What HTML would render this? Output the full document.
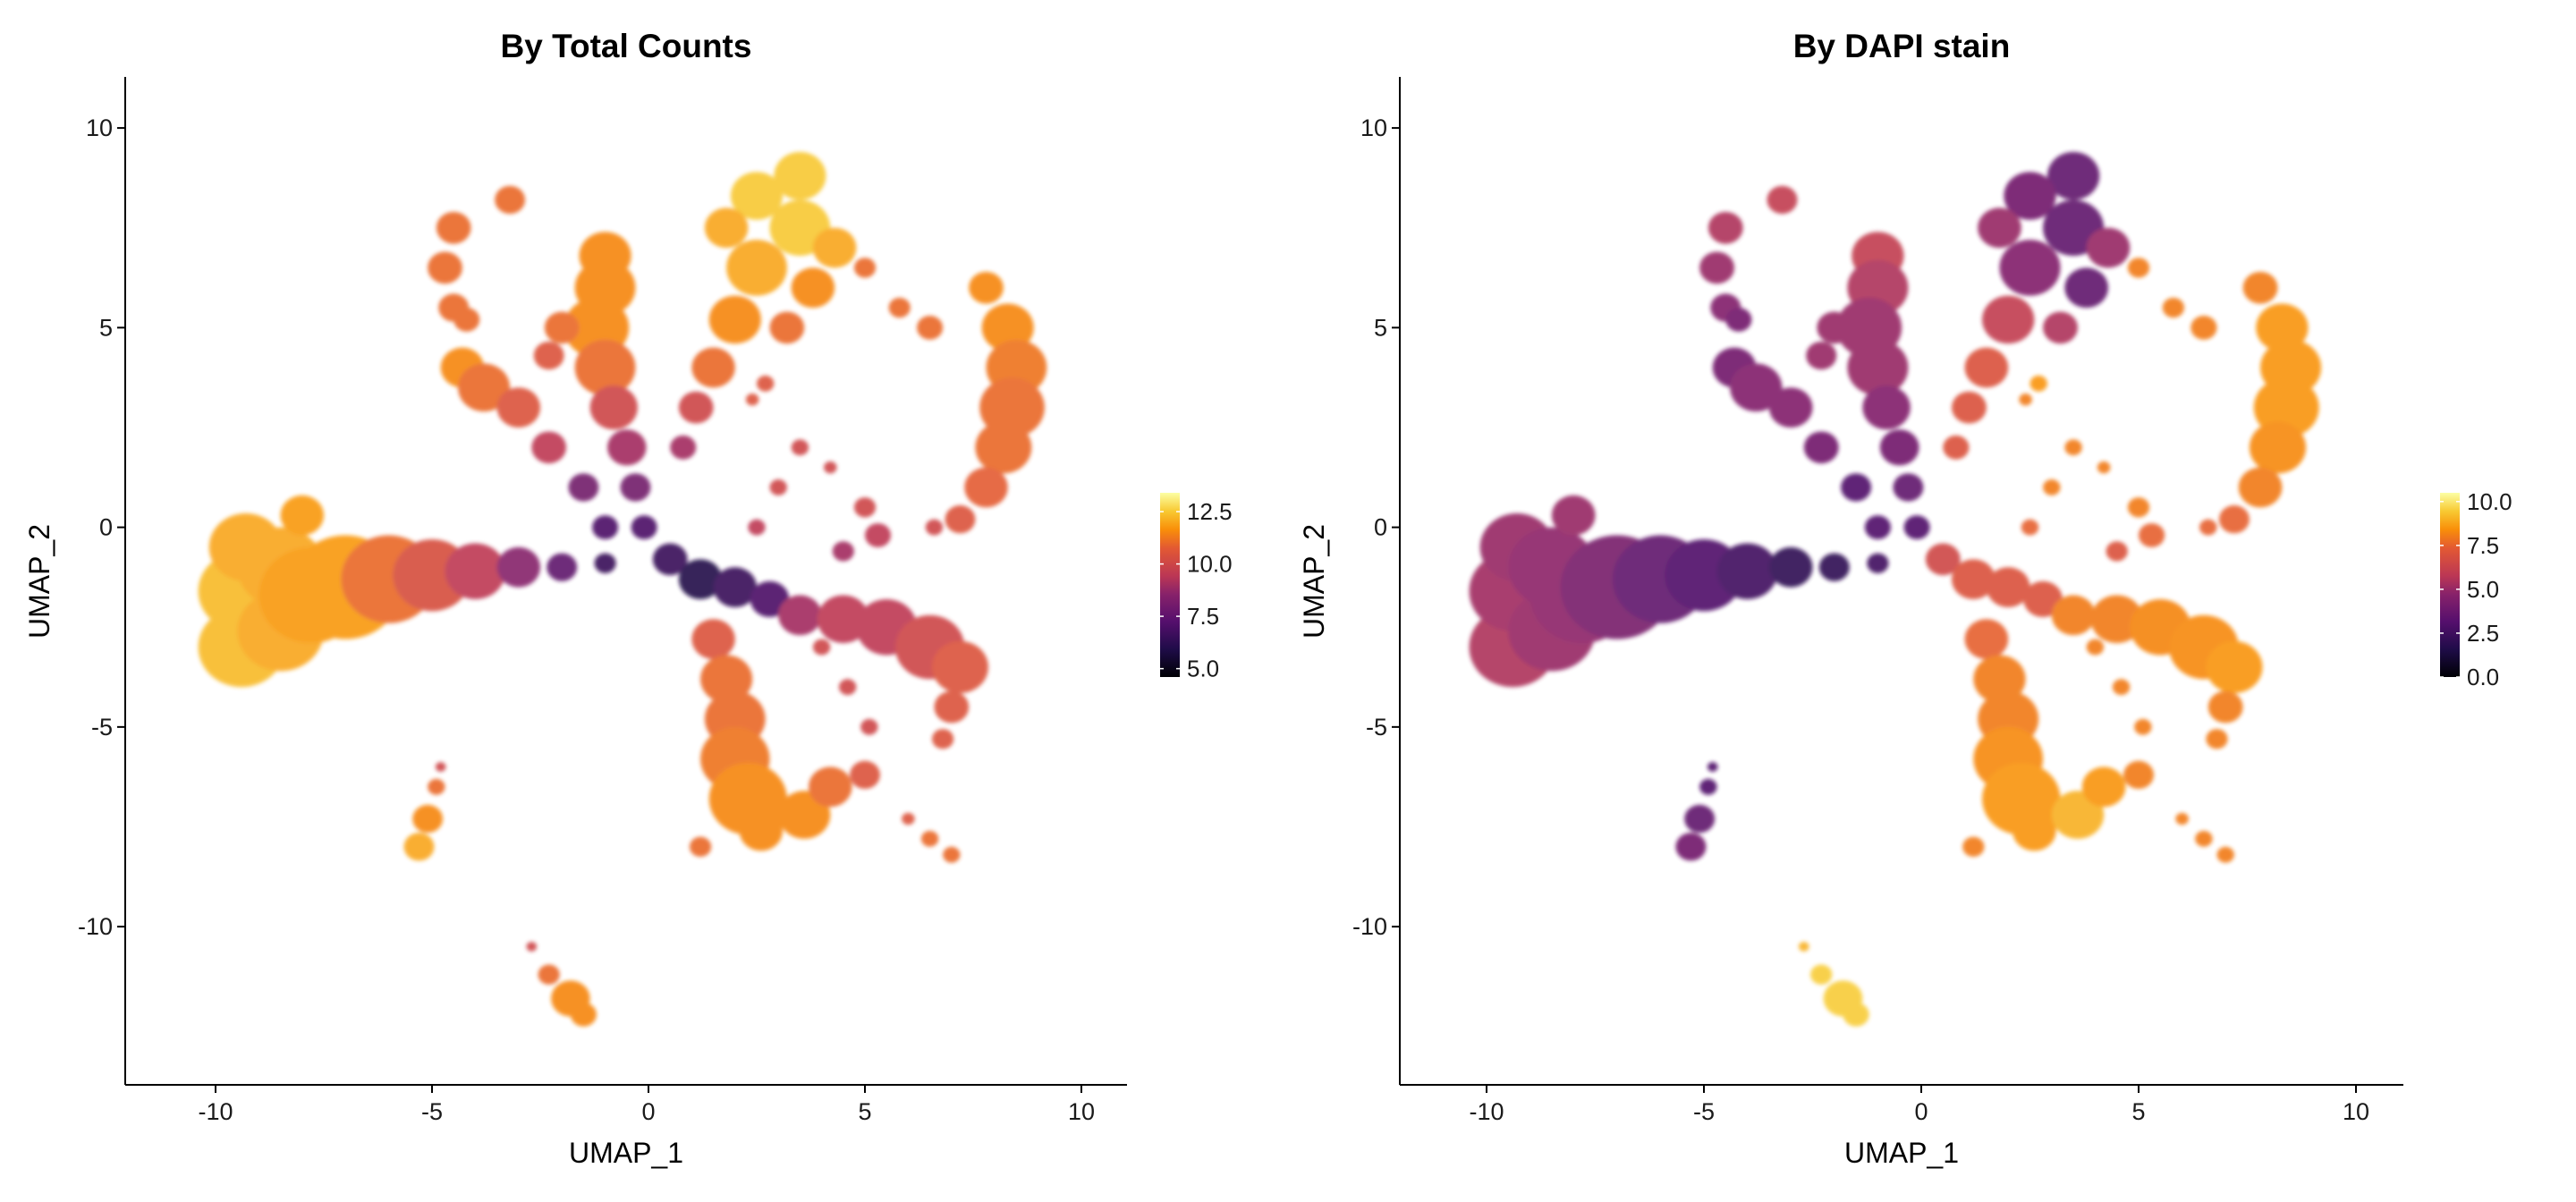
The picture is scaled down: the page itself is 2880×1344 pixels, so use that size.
<!DOCTYPE html>
<html><head><meta charset="utf-8">
<style>
body{margin:0;background:#fff;}
svg{display:block;font-family:"Liberation Sans",sans-serif;}
</style></head>
<body>
<svg id="root" width="2880" height="1344" viewBox="0 0 2880 1344">
<defs>
<linearGradient id="inferno" x1="0" y1="1" x2="0" y2="0">
<stop offset="0" stop-color="#000004"/><stop offset="0.15" stop-color="#1f0c48"/>
<stop offset="0.3" stop-color="#550f6d"/><stop offset="0.45" stop-color="#88226a"/>
<stop offset="0.55" stop-color="#bc3754"/><stop offset="0.7" stop-color="#e35933"/>
<stop offset="0.8" stop-color="#f98e09"/><stop offset="0.9" stop-color="#f8c932"/>
<stop offset="1" stop-color="#fcffa4"/></linearGradient>
<filter id="soft"><feGaussianBlur stdDeviation="2.5"/></filter>
</defs>
</svg>
<script>
// cluster anchors in UMAP coordinates
const clusterX = [
 -9.4,-9.4,-9.3,-8.5,-8.5,-7.8,-7,-6,-5,-4,-3,-2,-1, -8,
 -3.2,-4.5,-4.7,-4.5,-4.2,
 -4.3,-3.8,-3,-2.3,-1.5,-1,
 -1,-1,-1.2,-1,-0.8,-0.5,-0.3,-0.1,
 -2,-2.3,
 3.5,2.5,1.8,3.5,4.3,2.5,3.8,2,3.2,1.5,1.1,0.8,
 5,5.8,6.5,
 7.8,8.3,8.5,8.4,8.2,7.8,7.2,6.6,
 2.7,2.4,3.5,3,2.5,4.2,5,5.3,4.5,
 0.5,1.2,2,2.8,
 3.5,4.5,5.5,6.5,7.2,7,6.8,
 4,4.6,5.1,
 1.5,1.8,2,2,2.3,2.6,3.6,4.2,5,1.2,
 -5.3,-5.1,-4.9,-4.8,
 -2.7,-2.3,-1.8,-1.5,
 6,6.5,7];
const clusterY = [
 -3,-1.6,-0.5,-2.6,-1,-1.7,-1.5,-1.3,-1.2,-1.1,-1,-1,-0.9, 0.3,
 8.2,7.5,6.5,5.5,5.2,
 4,3.5,3,2,1,0,
 6.8,6,5,4,3,2,1,0,
 5,4.3,
 8.8,8.3,7.5,7.5,7,6.5,6,5.2,5,4,3,2,
 6.5,5.5,5,
 6,5,4,3,2,1,0.2,0,
 3.6,3.2,2,1,0,1.5,0.5,-0.2,-0.6,
 -0.8,-1.3,-1.5,-1.8,
 -2.2,-2.3,-2.5,-3,-3.5,-4.5,-5.3,
 -3,-4,-5,
 -2.8,-3.8,-4.8,-5.8,-6.8,-7.6,-7.2,-6.5,-6.2,-8,
 -8,-7.3,-6.5,-6,
 -10.5,-11.2,-11.8,-12.2,
 -7.3,-7.8,-8.2];
const clusterR = [
 1,1,0.85,1,1,1.2,1.3,1.1,0.9,0.7,0.5,0.35,0.25, 0.5,
 0.35,0.4,0.4,0.35,0.3,
 0.5,0.6,0.5,0.4,0.35,0.3,
 0.6,0.7,0.75,0.7,0.55,0.45,0.35,0.3,
 0.4,0.35,
 0.6,0.6,0.5,0.7,0.5,0.7,0.5,0.6,0.4,0.5,0.4,0.3,
 0.25,0.25,0.3,
 0.4,0.6,0.7,0.75,0.65,0.5,0.35,0.2,
 0.2,0.15,0.2,0.2,0.2,0.15,0.25,0.3,0.25,
 0.4,0.5,0.5,0.45,
 0.5,0.6,0.7,0.8,0.65,0.4,0.25,
 0.2,0.2,0.2,
 0.5,0.6,0.7,0.8,0.9,0.5,0.6,0.5,0.35,0.25,
 0.35,0.35,0.2,0.12,
 0.12,0.25,0.45,0.3,
 0.15,0.2,0.2];
const countVals = [
 12.3,12.3,12,12,12,11.8,11.8,11,10.3,9.5,8.5,7.5,6.5, 11.8,
 11,11,11,11,11,
 11.5,11,10.5,9.5,8,7,
 11.5,11.5,11.5,11,10,9,8,7,
 11,10.5,
 12.5,12.5,12,12.5,12,12,11.5,11.5,11,11,10,9,
 11,11,11,
 11.5,11.5,11.2,11,11,10.8,10.5,10,
 10.5,10.5,10,10,9.5,10,10,9.5,9,
 6.5,6,6.5,7,
 9,9.5,9.5,10,10.5,10.5,10.5,
 10,10,10,
 10.5,11,11,11.2,11.5,11.5,11.5,11,10.5,11,
 12,11.5,11,10,
 10,11,11.5,11.5,
 10.5,11,11];
const dapiVals = [
 5.5,5.2,5,5,4.8,4.8,4.2,3.5,3,2.5,2,2,2.5, 5,
 6,5.5,5,4.5,4,
 4,4.5,4.5,4,3,3,
 6,5.5,5,5,4.5,4,3.5,3,
 5,5,
 3.5,4,5,3.5,5,4.5,3.5,6,5.5,7,7,7,
 8,8,8,
 8,8.5,8.5,8.5,8.3,8,7.5,7.5,
 8.5,8,8,8,7.5,8,8,7.5,7,
 6.5,7,7,7,
 8,8,8.2,8.3,8.5,8,8,
 8,8,8,
 7.5,8,8,8.3,8.5,8.5,9,8.5,8,8,
 4,3.5,3,3,
 9,9.5,9.5,9.5,
 8,8,8];
const xTicks = [-10,-5,0,5,10];
const yTicks = [10,5,0,-5,-10];
const countTicks = [5.0,7.5,10.0,12.5];
const dapiTicks = [0.0,2.5,5.0,7.5,10.0];

const NS="http://www.w3.org/2000/svg";
const root=document.getElementById('root');
const infernoStops=[[0,[0,0,4]],[0.15,[31,12,72]],[0.3,[85,15,109]],[0.45,[136,34,106]],[0.55,[188,55,84]],[0.7,[227,89,51]],[0.8,[249,142,9]],[0.9,[248,201,50]],[1,[252,255,164]]];
function inferno(t){t=Math.max(0,Math.min(1,t));for(let i=1;i<infernoStops.length;i++){const[a,ca]=infernoStops[i-1],[b,cb]=infernoStops[i];if(t<=b){const f=(t-a)/(b-a);return 'rgb('+ca.map((c,k)=>Math.round(c+(cb[k]-c)*f)).join(',')+')';}}return 'rgb(252,255,164)';}
function el(tag,attrs,parent){const e=document.createElementNS(NS,tag);for(const k in attrs)e.setAttribute(k,attrs[k]);(parent||root).appendChild(e);return e;}

function panel(cfg){
  const g=el('g',{});
  
  
  const sx=v=>cfg.x0+v*cfg.kx, sy=v=>589.6-v*44.65;
  const pts=el('g',{filter:'url(#soft)',opacity:'0.9'},g);
  
  
  for(let i=0;i<clusterX.length;i++){
    const c=el('ellipse',{cx:sx(clusterX[i]),cy:sy(clusterY[i]),rx:clusterR[i]*cfg.kx,ry:clusterR[i]*44.65,fill:inferno((cfg.vals[i]-cfg.vmin)/(cfg.vmax-cfg.vmin))},pts);
    
    
  }
  const xa=el('line',{x1:cfg.axL,x2:cfg.axR,y1:1213,y2:1213,stroke:'#000','stroke-width':2},g);
  
  const ya=el('line',{x1:cfg.axL,x2:cfg.axL,y1:86,y2:1213,stroke:'#000','stroke-width':2},g);
  
  xTicks.forEach(v=>{
    el('line',{x1:sx(v),x2:sx(v),y1:1213,y2:1222,stroke:'#000','stroke-width':2},g);
    const t=el('text',{x:sx(v),y:1252,'text-anchor':'middle','font-size':27,fill:'#1a1a1a'},g);t.textContent=v;
    
  });
  yTicks.forEach(v=>{
    el('line',{x1:cfg.axL-9,x2:cfg.axL,y1:sy(v),y2:sy(v),stroke:'#000','stroke-width':2},g);
    const t=el('text',{x:cfg.axL-14,y:sy(v)+9,'text-anchor':'end','font-size':27,fill:'#1a1a1a'},g);t.textContent=v;
    
  });
  const xt=el('text',{x:(cfg.axL+cfg.axR)/2,y:1300,'text-anchor':'middle','font-size':32},g);xt.textContent='UMAP_1';
  
  const yt=el('text',{x:0,y:0,'text-anchor':'middle','font-size':32,transform:`translate(${cfg.axL-85},650) rotate(-90)`},g);yt.textContent='UMAP_2';
  
  const tt=el('text',{x:(cfg.axL+cfg.axR)/2,y:64,'text-anchor':'middle','font-size':37,'font-weight':'bold'},g);tt.textContent=cfg.title;
  
  const cb=el('rect',{x:cfg.cbx,y:551,width:22,height:206,fill:'url(#inferno)'},g);
  
  const cy=v=>757-(v-cfg.vmin)/(cfg.vmax-cfg.vmin)*206;
  cfg.ticks.forEach(v=>{
    el('line',{x1:cfg.cbx,x2:cfg.cbx+4,y1:cy(v),y2:cy(v),stroke:'#fff','stroke-width':1.5},g);
    el('line',{x1:cfg.cbx+18,x2:cfg.cbx+22,y1:cy(v),y2:cy(v),stroke:'#fff','stroke-width':1.5},g);
    const t=el('text',{x:cfg.cbx+30,y:cy(v)+9,'font-size':26,fill:'#1a1a1a'},g);t.textContent=v.toFixed(1);
    
  });
}
panel({name:'total-counts-panel',title:'By Total Counts',x0:725,kx:48.4,axL:140,axR:1260,vals:countVals,vmin:4.6,vmax:13.4,cbx:1297,ticks:countTicks});
panel({name:'dapi-panel',title:'By DAPI stain',x0:2148,kx:48.6,axL:1565,axR:2687,vals:dapiVals,vmin:0,vmax:10.5,cbx:2728,ticks:dapiTicks});
</script>
</body></html>
